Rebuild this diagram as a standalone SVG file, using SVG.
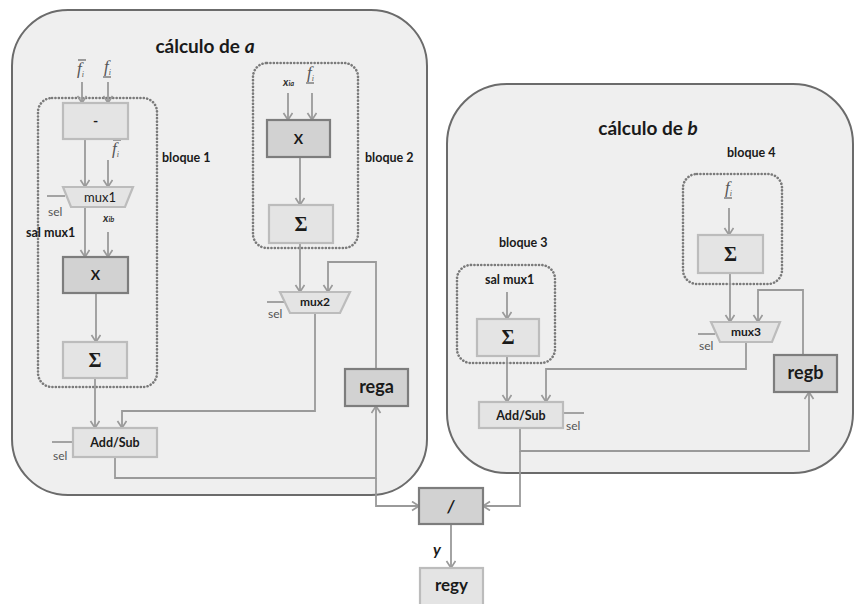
<svg xmlns="http://www.w3.org/2000/svg" width="854" height="604" viewBox="0 0 854 604">
<defs>
<marker id="arr" markerUnits="userSpaceOnUse" markerWidth="12" markerHeight="12" refX="8" refY="5" orient="auto">
<path d="M1,0.5 L8,5 L1,9.5" fill="none" stroke="#9a9a9a" stroke-width="1.7"/>
</marker>
<style>
.panel{fill:#efefef;stroke:#6b6b6b;stroke-width:2}
.dot{fill:none;stroke:#7a7a7a;stroke-width:2.6;stroke-dasharray:0.1 3.3;stroke-linecap:round}
.lt{fill:#e4e4e4;stroke:#bcbcbc;stroke-width:2.2}
.dk{fill:#d2d2d2;stroke:#7d7d7d;stroke-width:2.2}
.c{fill:none;stroke:#9a9a9a;stroke-width:1.8}
.ca{fill:none;stroke:#9a9a9a;stroke-width:1.8;marker-end:url(#arr)}
.t{font-family:Lato,"Liberation Sans",sans-serif;fill:#1a1a1a}
.b{font-weight:bold}
.sel{font-family:Lato,"Liberation Sans",sans-serif;font-size:12px;fill:#555}
.sig{font-family:"Liberation Serif",serif;font-weight:bold;font-size:20px;fill:#1a1a1a}
.fi{font-family:"Liberation Serif",serif;font-style:italic;font-size:17px;fill:#555}
.bar{stroke:#555;stroke-width:1.1}
.sub{font-size:8px}
.xl{font-family:Lato,"Liberation Sans",sans-serif;font-style:italic;font-weight:bold;font-size:11px;fill:#333}
</style>
</defs>

<g id="panel-a">
<rect class="panel" x="12" y="10" width="415" height="485" rx="56"/>
<text class="t b" x="205" y="53" font-size="19" text-anchor="middle">cálculo de <tspan font-style="italic">a</tspan></text>
</g>
<g id="panel-b">
<rect class="panel" x="447" y="84" width="406" height="389" rx="60"/>
<text class="t b" x="648" y="135" font-size="19" text-anchor="middle">cálculo de <tspan font-style="italic">b</tspan></text>
</g>

<g id="bloque1">
<rect class="dot" x="38" y="98" width="119" height="289" rx="14"/>
<text class="t b" x="162" y="162" font-size="12.5">bloque 1</text>
</g>
<g id="bloque2">
<rect class="dot" x="253" y="63" width="105" height="185" rx="14"/>
<text class="t b" x="365" y="162" font-size="12.5">bloque 2</text>
</g>
<g id="bloque3">
<rect class="dot" x="457" y="265" width="98" height="98" rx="14"/>
<text class="t b" x="499" y="247" font-size="12.5">bloque 3</text>
</g>
<g id="bloque4">
<rect class="dot" x="683" y="174" width="99" height="110" rx="14"/>
<text class="t b" x="727" y="157" font-size="12.5">bloque 4</text>
</g>

<g id="labels">
<text class="fi" x="77" y="74">f<tspan class="sub" dy="3">i</tspan></text>
<line class="bar" x1="78" y1="60" x2="86" y2="60"/>
<text class="fi" x="104" y="72">f<tspan class="sub" dy="3">i</tspan></text>
<line class="bar" x1="103" y1="77" x2="111" y2="77"/>
<text class="fi" x="112" y="154">f<tspan class="sub" dy="3">i</tspan></text>
<line class="bar" x1="113" y1="140" x2="121" y2="140"/>
<text class="xl" x="103" y="222">x<tspan font-size="7.5">ib</tspan></text>
<text class="t b" x="26" y="237" font-size="12.5">sal mux1</text>
<text class="xl" x="283" y="86">x<tspan font-size="7.5">ia</tspan></text>
<text class="fi" x="307" y="78">f<tspan class="sub" dy="3">i</tspan></text>
<line class="bar" x1="306" y1="83" x2="314" y2="83"/>
<text class="fi" x="725" y="193">f<tspan class="sub" dy="3">i</tspan></text>
<line class="bar" x1="724" y1="198" x2="732" y2="198"/>
<text class="t b" x="485" y="284" font-size="12.5">sal mux1</text>
<text class="sel" x="48" y="216">sel</text>
<text class="sel" x="53" y="460">sel</text>
<text class="sel" x="268" y="318">sel</text>
<text class="sel" x="699" y="350">sel</text>
<text class="sel" x="566" y="430">sel</text>
<text class="t b" x="433" y="555" font-size="16" font-style="italic">y</text>
</g>

<g id="connectors">
<path class="ca" d="M82,82 V103"/>
<path class="ca" d="M108,82 V103"/>
<path class="ca" d="M85,139 V187"/>
<path class="ca" d="M108,160 V187"/>
<path class="c" d="M47,196 H65"/>
<path class="ca" d="M85,207 V257"/>
<path class="ca" d="M108,232 V257"/>
<path class="ca" d="M96,293 V342"/>
<path class="ca" d="M95,378 V428"/>
<path class="ca" d="M315,313 V411 H122 V428"/>
<path class="c" d="M52,442 H73"/>
<path class="ca" d="M115,457 V478 H376 V406"/>
<path class="ca" d="M376,478 V506 H419"/>
<path class="ca" d="M376,369 V262 H328 V292"/>
<path class="ca" d="M288,93 V120"/>
<path class="ca" d="M312,93 V120"/>
<path class="ca" d="M300,157 V205"/>
<path class="ca" d="M300,243 V292"/>
<path class="c" d="M267,302 H284"/>
<path class="ca" d="M729,208 V235"/>
<path class="ca" d="M730,273 V322"/>
<path class="c" d="M698,334 H715"/>
<path class="ca" d="M803,355 V290 H758 V322"/>
<path class="ca" d="M746,342 V369 H546 V402"/>
<path class="ca" d="M507,292 V319"/>
<path class="ca" d="M507,356 V402"/>
<path class="c" d="M563,413 H584"/>
<path class="ca" d="M520,428 V451 H809 V392"/>
<path class="ca" d="M520,451 V506 H483"/>
<path class="ca" d="M451,524 V568"/>
</g>

<g id="sub1"><rect class="lt" x="63" y="103" width="65" height="36"/><text class="t b" x="95.5" y="126" font-size="14" text-anchor="middle">-</text></g>
<g id="mux1"><path class="lt" d="M63,187 H133 L125,207 H71 Z"/><text class="t" x="100" y="202" font-size="13" text-anchor="middle">mux1</text></g>
<g id="mul1"><rect class="dk" x="63" y="257" width="65" height="36"/><text class="t b" x="95.5" y="280" font-size="14" text-anchor="middle">X</text></g>
<g id="sum1"><rect class="lt" x="63" y="342" width="64" height="36"/><text class="sig" x="95" y="367" text-anchor="middle">Σ</text></g>
<g id="addsub-a"><rect class="lt" x="73" y="428" width="84" height="29"/><text class="t b" x="115" y="447" font-size="12.5" text-anchor="middle">Add/Sub</text></g>
<g id="mul2"><rect class="dk" x="267" y="120" width="63" height="37"/><text class="t b" x="298.5" y="144" font-size="14" text-anchor="middle">X</text></g>
<g id="sum2"><rect class="lt" x="269" y="205" width="64" height="38"/><text class="sig" x="301" y="231" text-anchor="middle">Σ</text></g>
<g id="mux2"><path class="lt" d="M280,292 H350 L340,313 H290 Z"/><text class="t b" x="315" y="306" font-size="12" text-anchor="middle">mux2</text></g>
<g id="rega"><rect class="dk" x="345" y="369" width="63" height="37"/><text class="t b" x="376.5" y="393" font-size="18" text-anchor="middle">rega</text></g>
<g id="sum3"><rect class="lt" x="477" y="319" width="62" height="37"/><text class="sig" x="508" y="344" text-anchor="middle">Σ</text></g>
<g id="addsub-b"><rect class="lt" x="479" y="402" width="84" height="26"/><text class="t b" x="521" y="420" font-size="12.5" text-anchor="middle">Add/Sub</text></g>
<g id="sum4"><rect class="lt" x="698" y="235" width="65" height="38"/><text class="sig" x="730.5" y="261" text-anchor="middle">Σ</text></g>
<g id="mux3"><path class="lt" d="M711,322 H780 L772,342 H720 Z"/><text class="t b" x="746" y="336" font-size="12" text-anchor="middle">mux3</text></g>
<g id="regb"><rect class="dk" x="774" y="355" width="63" height="37"/><text class="t b" x="805.5" y="379" font-size="18" text-anchor="middle">regb</text></g>
<g id="div"><rect class="dk" x="419" y="488" width="64" height="36"/><text class="t b" x="451" y="512" font-size="17" font-style="italic" text-anchor="middle">/</text></g>
<g id="regy"><rect class="lt" x="420" y="568" width="63" height="40"/><text class="t b" x="451.5" y="591" font-size="17" text-anchor="middle">regy</text></g>
</svg>
